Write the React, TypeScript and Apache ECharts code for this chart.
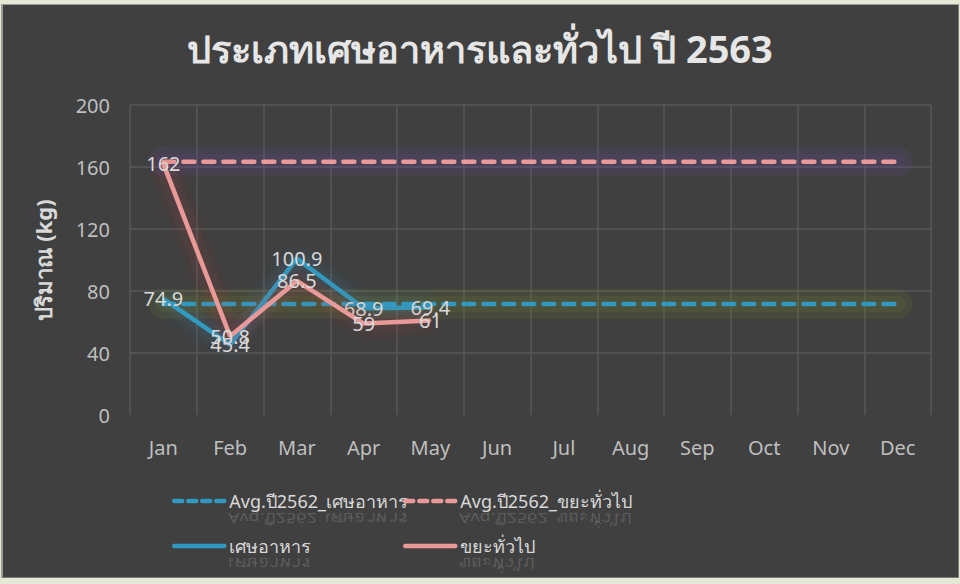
import React, { useEffect, useRef } from "react";
import * as echarts from "echarts";

const months = ["Jan", "Feb", "Mar", "Apr", "May", "Jun", "Jul", "Aug", "Sep", "Oct", "Nov", "Dec"];
const foodWaste = [74.9, 45.4, 100.9, 68.9, 69.4];
const generalWaste = [162, 50.8, 86.5, 59, 61];
const avgFood2562 = [71.6, 71.6, 71.6, 71.6, 71.6, 71.6, 71.6, 71.6, 71.6, 71.6, 71.6, 71.6];
const avgGeneral2562 = [163.4, 163.4, 163.4, 163.4, 163.4, 163.4, 163.4, 163.4, 163.4, 163.4, 163.4, 163.4];
const seriesNames = ["Avg.ปี2562_เศษอาหาร", "Avg.ปี2562_ขยะทั่วไป", "เศษอาหาร", "ขยะทั่วไป"];
const titleText = "ประเภทเศษอาหารและทั่วไป ปี 2563";
const yAxisName = "ปริมาณ (kg)";

const FONT = "'Noto Sans', 'DejaVu Sans', sans-serif";
const BLUE = "#3199bf";
const PINK = "#e99a98";
const TXT = "#d9d9d9";

export default function App() {
  const ref = useRef<HTMLDivElement>(null);
  useEffect(() => {
    document.body.style.margin = "0";
    const chart = echarts.init(ref.current!, null, { renderer: "svg" });
    const legendPos = [
      { left: 172, top: 492, dashed: true },
      { left: 403, top: 492, dashed: true },
      { left: 172, top: 537, dashed: false },
      { left: 403, top: 537, dashed: false },
    ];
    const lineLabel = {
      show: true,
      position: "inside",
      color: TXT,
      fontSize: 20,
      fontFamily: FONT,
    };
    const glow = (data: number[], color: string, width: number, name: string) => ({
      name,
      type: "line",
      data,
      symbol: "none",
      silent: true,
      z: 1,
      lineStyle: { color, width, cap: "round" },
      tooltip: { show: false },
    });
    chart.setOption({
      animation: false,
      backgroundColor: "transparent",
      textStyle: { fontFamily: FONT },
      title: {
        text: titleText,
        left: "center",
        top: 24,
        textStyle: { color: "#e6e6e6", fontSize: 38, fontWeight: "bold", fontFamily: FONT },
      },
      grid: { left: 130, right: 29, top: 105, bottom: 169 },
      legend: seriesNames.map((n, i) => ({
        data: [n],
        left: legendPos[i].left,
        top: legendPos[i].top,
        padding: 0,
        itemWidth: 50,
        itemHeight: 14,
        itemGap: 6,
        itemStyle: { opacity: 0 },
        lineStyle: legendPos[i].dashed
          ? { width: 4.5, type: [8, 6], cap: "round" }
          : { width: 4.5, type: "solid", cap: "round" },
        textStyle: { color: TXT, fontSize: 18, fontFamily: FONT },
      })),
      graphic: seriesNames.map((n, i) => ({
        type: "text",
        x: legendPos[i].left + 56,
        y: legendPos[i].top + 19,
        scaleY: -0.8,
        silent: true,
        style: {
          text: n,
          fill: "rgba(217,217,217,0.2)",
          fontSize: 18,
          fontFamily: FONT,
          textVerticalAlign: "bottom",
        },
      })),
      xAxis: {
        type: "category",
        data: months,
        boundaryGap: true,
        axisLine: { show: false },
        axisTick: { show: false },
        axisLabel: { color: "#bfbfbf", fontSize: 20, fontFamily: FONT, margin: 22 },
        splitLine: { show: true, lineStyle: { color: "#575757", width: 1.5 } },
      },
      yAxis: {
        type: "value",
        min: 0,
        max: 200,
        interval: 40,
        name: yAxisName,
        nameLocation: "middle",
        nameGap: 76,
        nameTextStyle: { color: TXT, fontSize: 22, fontWeight: "bold", fontFamily: FONT },
        axisLine: { show: false },
        axisTick: { show: false },
        axisLabel: { color: "#bfbfbf", fontSize: 20, fontFamily: FONT, margin: 20 },
        splitLine: { show: true, showMinLine: false, lineStyle: { color: "#575757", width: 1.5 } },
      },
      series: [
        glow(avgFood2562, "rgba(120,140,40,0.13)", 30, "g1"),
        glow(avgFood2562, "rgba(120,140,40,0.13)", 16, "g2"),
        glow(avgGeneral2562, "rgba(110,80,170,0.13)", 30, "g3"),
        glow(avgGeneral2562, "rgba(110,80,170,0.13)", 16, "g4"),
        {
          name: seriesNames[0],
          type: "line",
          data: avgFood2562,
          symbol: "none",
          z: 2,
          lineStyle: { color: BLUE, width: 4.5, type: [11, 9], cap: "round" },
          itemStyle: { color: BLUE },
        },
        {
          name: seriesNames[1],
          type: "line",
          data: avgGeneral2562,
          symbol: "none",
          z: 2,
          lineStyle: { color: PINK, width: 4.5, type: [11, 9], cap: "round" },
          itemStyle: { color: PINK },
        },
        {
          name: seriesNames[2],
          type: "line",
          data: foodWaste,
          symbol: "circle",
          symbolSize: 2,
          showSymbol: true,
          z: 3,
          lineStyle: {
            color: BLUE,
            width: 4.5,
            shadowColor: "rgba(50,150,210,0.6)",
            shadowBlur: 16,
          },
          itemStyle: { color: BLUE },
          label: lineLabel,
        },
        {
          name: seriesNames[3],
          type: "line",
          data: generalWaste,
          symbol: "circle",
          symbolSize: 2,
          showSymbol: true,
          z: 4,
          lineStyle: {
            color: PINK,
            width: 4.5,
            shadowColor: "rgba(210,50,50,0.6)",
            shadowBlur: 16,
          },
          itemStyle: { color: PINK },
          label: lineLabel,
        },
      ],
    });
    return () => chart.dispose();
  }, []);
  return (
    <div style={{ position: "relative", width: 960, height: 584, background: "#e3e9d5", overflow: "hidden" }}>
      <div
        style={{
          position: "absolute",
          left: 1,
          top: 4,
          width: 955,
          height: 572,
          background: "#404040",
          borderLeft: "2px solid #9c9c9c",
          borderTop: "1px solid #9c9c9c",
          borderRight: "1px solid #7a7a7a",
          borderBottom: "1px solid #7a7a7a",
        }}
      />
      <div ref={ref} style={{ position: "absolute", left: 0, top: 0, width: 960, height: 584 }} />
    </div>
  );
}
